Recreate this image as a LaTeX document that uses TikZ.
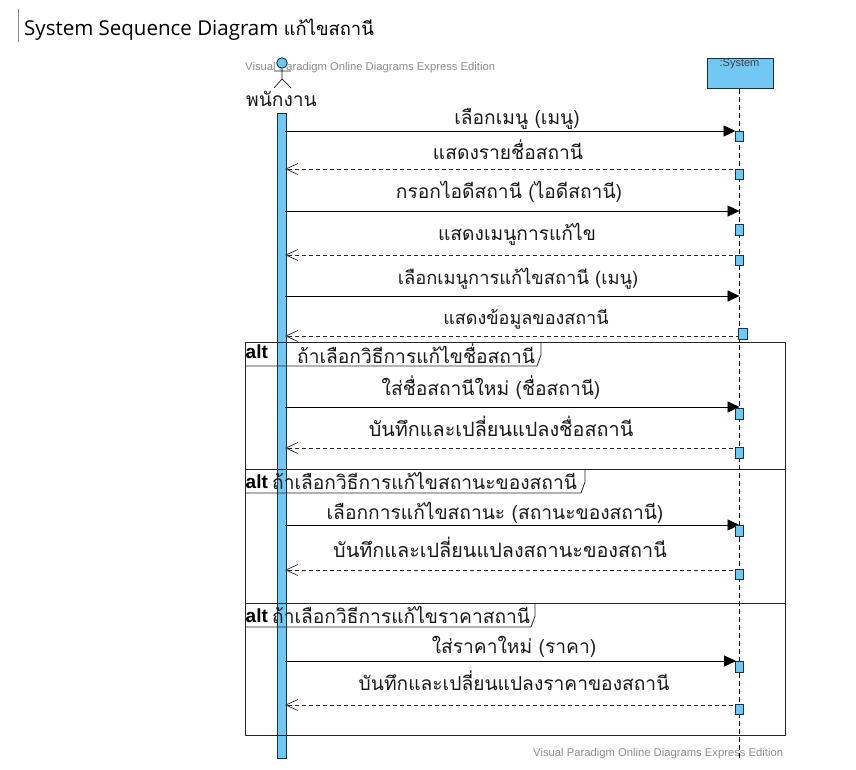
\documentclass[tikz,border=0pt]{standalone}
\usepackage{fontspec}
\setmainfont{Liberation Sans}
\newfontfamily\thaifont[Script=Thai]{Loma}
\newfontfamily\titlefont{Open Sans}
\usetikzlibrary{arrows.meta,positioning}
\definecolor{vpblue}{HTML}{72C8F2}
\definecolor{vpedge}{HTML}{143444}
\definecolor{markgray}{HTML}{8C8C8C}

\begin{document}
\begin{tikzpicture}[x=1pt, y=-1pt,
			msg/.style={font=\thaifont\fontsize{19.2}{21}\selectfont, anchor=base, inner sep=0pt, text=black!90, yshift=-1pt},
			msgwide/.style={msg, font=\thaifont\fontsize{19.8}{21}\selectfont},
			tabtext/.style={msg, anchor=base west},
			alttext/.style={font=\bfseries\fontsize{19}{21}\selectfont, anchor=base west, inner sep=0pt},
			stamp/.style={font=\fontsize{11.25}{13}\selectfont, text=markgray, anchor=base west, inner sep=0pt},
			call/.style={draw=black, line width=.9pt, -{Triangle[length=12pt, width=11pt]}},
			reply/.style={draw=black!85, line width=.8pt, dash pattern=on 4pt off 3pt, -{Straight Barb[length=12pt, width=11pt, line width=.7pt]}},
			act/.style={draw=vpedge, fill=vpblue, line width=.9pt, minimum width=8.5pt, inner sep=0pt, anchor=north},
			frameline/.style={draw=black!85, line width=.8pt}]
	\useasboundingbox (0,0) rectangle (856,770);
	% heading
	\draw[black!45, line width=.8pt] (18,9) -- (18,42);
	\node[anchor=base west, inner sep=0pt] (title) at (24,36)
		{\titlefont\fontsize{20.5}{22}\selectfont System Sequence Diagram {\thaifont\fontsize{18.4}{22}\selectfont แก้ไขสถานี}};
	\node[stamp] (stamptop) at (245,71) {Visual Paradigm Online Diagrams Express Edition};
	\node[stamp] (stampbot) at (533,756) {Visual Paradigm Online Diagrams Express Edition};

	% actor
	\node[circle, draw=vpedge, fill=vpblue, line width=.9pt, minimum size=10.5pt, inner sep=0pt] (head) at (282,63) {};
	\coordinate (hip) at (282,79);
	\coordinate (armL) at (274,71);
	\coordinate (armR) at (291,71);
	\coordinate (legL) at (274,88);
	\coordinate (legR) at (291,88);
	\draw[black!90, line width=.7pt] (head) -- (hip) (armL) -- (armR) (legL) -- (hip) -- (legR);
	\node[msg] (actor) at (281.5,106) {พนักงาน};
	\node[draw=vpedge, fill=vpblue, line width=.9pt, minimum width=8.5pt, minimum height=645pt, inner sep=0pt, anchor=north] (bar) at (282,113) {};

	% system
	\node[draw=vpedge, fill=vpblue, line width=.9pt, minimum width=66pt, minimum height=30pt, inner sep=0pt, anchor=north west] (sys) at (706.5,58) {};
	\node[font=\fontsize{11}{13}\selectfont, text=black!75, inner sep=0pt, anchor=base] (syslabel) at (739.5,67) {:System};
	\coordinate (sysend) at (739.5,760);
	\draw[black, line width=.8pt, dash pattern=on 5pt off 3pt] (sys.south -| sysend) -- (sysend);

	% frames
	\foreach \top/\bot/\tab in {342/469/541, 469/603/585, 603/735/535}{
		\draw[frameline] (245,\top) rectangle (785,\bot);
		\draw[frameline] (245,\top+24) -- (\tab-4,\top+24) -- (\tab,\top+13) -- (\tab,\top);
	}
	\node[alttext] (alt1) at (245.5,358) {alt};
	\node[alttext] (alt2) at (245.5,488) {alt};
	\node[alttext] (alt3) at (245.5,622) {alt};
	\node[tabtext] (cond1) at (297,362) {ถ้าเลือกวิธีการแก้ไขชื่อสถานี};
	\node[tabtext] (cond2) at (272,488) {ถ้าเลือกวิธีการแก้ไขสถานะของสถานี};
	\node[tabtext] (cond3) at (272,622) {ถ้าเลือกวิธีการแก้ไขราคาสถานี};

	% messages
	\foreach \n/\y/\xend in {1/131/735.5, 3/211/739.5, 5/296/739.5, 7/407/739.5, 9/525/739.5, 11/661/736}{
		\coordinate (u\n) at (285,\y);
		\coordinate (s\n) at (\xend,\y);
		\draw[call] (u\n) -- (s\n);
	}
	\foreach \n/\y in {2/169, 4/255, 6/336, 8/448, 10/570, 12/705}{
		\coordinate (u\n) at (285,\y);
		\coordinate (s\n) at (739.5,\y);
		\draw[reply] (s\n) -- (u\n);
	}
	\node[msg] (m1) at (517,124) {เลือกเมนู (เมนู)};
	\node[msg] (m2) at (508,159) {แสดงรายชื่อสถานี};
	\node[msg] (m3) at (509,198) {กรอกไอดีสถานี (ไอดีสถานี)};
	\node[msg] (m4) at (517,239) {แสดงเมนูการแก้ไข};
	\node[msg, font=\thaifont\fontsize{18.3}{21}\selectfont] (m5) at (518,283) {เลือกเมนูการแก้ไขสถานี (เมนู)};
	\node[msg, font=\thaifont\fontsize{18}{20}\selectfont] (m6) at (526,323) {แสดงข้อมูลของสถานี};
	\node[msg] (m7) at (491,394) {ใส่ชื่อสถานีใหม่ (ชื่อสถานี)};
	\node[msgwide] (m8) at (501,435) {บันทึกและเปลี่ยนแปลงชื่อสถานี};
	\node[msg] (m9) at (495,518) {เลือกการแก้ไขสถานะ (สถานะของสถานี)};
	\node[msgwide] (m10) at (500,556) {บันทึกและเปลี่ยนแปลงสถานะของสถานี};
	\node[msg] (m11) at (514,652) {ใส่ราคาใหม่ (ราคา)};
	\node[msg] (m12) at (514,689) {บันทึกและเปลี่ยนแปลงราคาของสถานี};

	% activations
	\foreach \n/\x/\y/\h in {1/739.5/131/10.5, 2/739.5/169.5/10, 3/739.5/224/11, 4/739.5/255/10,
			5/743/328/11, 6/739.5/408/10.5, 7/739.5/447/10.5, 8/739.5/525/10.5,
			9/739.5/569/10, 10/739.5/661/10.5, 11/739.5/704/10}{
		\node[act, minimum height=\h pt] (a\n) at (\x,\y) {};
	}
\end{tikzpicture}
\end{document}
